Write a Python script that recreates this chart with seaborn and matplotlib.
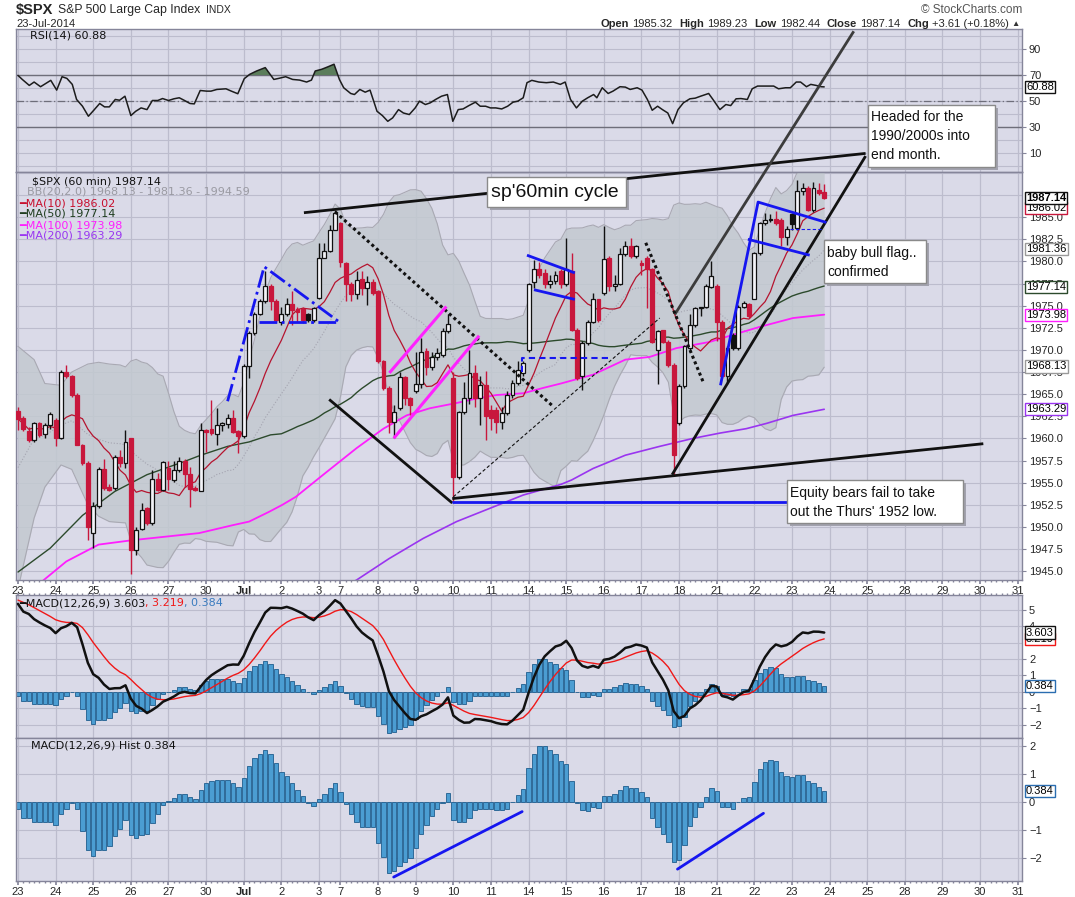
import matplotlib
matplotlib.use("Agg")
import numpy as np
import pandas as pd
import matplotlib.pyplot as plt
import matplotlib.patches as mpatches
from matplotlib.ticker import MultipleLocator
import seaborn as sns

# ------------------------------------------------------------------ data
day_labels = ["23", "24", "25", "26", "27", "30", "Jul", "2", "3", "7", "8", "9", "10", "11",
              "14", "15", "16", "17", "18", "21", "22", "23", "24", "25", "28", "29", "30", "31"]
bars_per_day = [7, 7, 7, 7, 7, 7, 7, 7, 4] + [7] * 19

opens = [1963.1, 1962.3, 1960.8, 1959.8, 1961.7, 1960.5, 1961.5,
         1962.1, 1960.0, 1967.5, 1967.0, 1964.9, 1959.3, 1957.2,
         1949.3, 1952.4, 1956.5, 1954.5, 1954.4, 1957.9, 1957.2,
         1960.0, 1947.4, 1949.8, 1952.1, 1950.4, 1955.4, 1954.2,
         1956.6, 1955.3, 1956.4, 1957.4, 1956.0, 1954.4, 1954.1,
         1961.0, 1961.1, 1960.5, 1961.5, 1961.6, 1962.3, 1960.8,
         1960.3, 1968.2, 1971.9, 1974.1, 1975.5, 1977.2, 1975.5,
         1973.2, 1974.0, 1975.2, 1974.6, 1974.6, 1974.0, 1973.4,
         1975.9, 1980.4, 1981.2, 1983.6,
         1984.3, 1979.8, 1977.5, 1976.3, 1978.0, 1977.0, 1977.7,
         1976.6, 1968.7, 1965.7, 1961.9, 1963.4, 1966.9, 1964.6,
         1965.3, 1966.1, 1969.9, 1968.1, 1969.2, 1969.4, 1972.1,
         1966.8, 1955.6, 1963.0, 1964.6, 1967.4, 1964.6, 1966.0,
         1963.2, 1963.2, 1961.9, 1962.9, 1964.9, 1966.3, 1967.4,
         1970.0, 1977.7, 1979.1, 1978.7, 1977.4, 1977.8, 1978.9,
         1977.4, 1978.9, 1972.3, 1967.0, 1970.8, 1973.2, 1975.7,
         1976.4, 1980.4, 1977.2, 1977.5, 1980.8, 1981.7, 1980.6,
         1979.8, 1980.4, 1979.1, 1970.0, 1972.2, 1970.9, 1968.3,
         1961.7, 1965.9, 1970.2, 1972.8, 1974.8, 1974.8, 1977.1,
         1977.2, 1973.2, 1967.0, 1971.7, 1970.2, 1974.9, 1975.2,
         1975.8, 1980.9, 1984.3, 1984.8, 1984.8, 1984.7, 1982.7,
         1985.3, 1983.8, 1988.0, 1988.3, 1985.8, 1988.1, 1987.8]
highs = [1963.6, 1962.5, 1961.3, 1961.8, 1961.9, 1961.7, 1963.0,
         1962.3, 1967.7, 1968.3, 1967.2, 1965.1, 1959.4, 1957.4,
         1952.8, 1956.8, 1957.7, 1954.9, 1958.1, 1958.7, 1961.0,
         1960.1, 1950.0, 1952.7, 1952.3, 1956.4, 1956.1, 1957.5,
         1957.4, 1957.4, 1957.9, 1957.7, 1956.8, 1954.6, 1961.7,
         1961.1, 1964.3, 1963.4, 1961.9, 1962.8, 1963.2, 1961.0,
         1968.4, 1972.1, 1974.3, 1975.7, 1978.9, 1977.4, 1975.7,
         1974.9, 1975.9, 1976.7, 1974.9, 1974.8, 1974.2, 1974.9,
         1982.1, 1982.1, 1984.1, 1985.8,
         1984.5, 1979.9, 1977.7, 1978.9, 1978.9, 1978.4, 1978.0,
         1976.8, 1968.9, 1965.9, 1963.8, 1967.5, 1967.0, 1964.7,
         1969.8, 1971.3, 1970.2, 1969.8, 1970.2, 1972.5, 1974.1,
         1967.5, 1963.1, 1966.4, 1970.0, 1968.3, 1967.0, 1967.6,
         1963.8, 1963.6, 1963.5, 1965.3, 1966.6, 1968.7, 1968.8,
         1977.6, 1980.2, 1979.9, 1979.1, 1978.5, 1978.9, 1979.1,
         1982.6, 1980.9, 1972.5, 1971.0, 1973.4, 1976.4, 1975.8,
         1984.0, 1980.6, 1978.5, 1981.5, 1982.3, 1982.6, 1981.8,
         1980.2, 1980.6, 1979.2, 1972.3, 1972.3, 1971.1, 1968.5,
         1966.1, 1970.6, 1974.0, 1974.9, 1974.9, 1977.4, 1980.0,
         1977.4, 1973.4, 1970.4, 1971.9, 1975.1, 1975.5, 1975.3,
         1981.1, 1984.5, 1985.5, 1985.3, 1985.7, 1984.9, 1984.0,
         1985.5, 1989.2, 1988.9, 1988.5, 1989.0, 1988.9, 1988.7]
lows = [1961.0, 1960.8, 1959.6, 1959.6, 1960.2, 1960.0, 1961.1,
        1959.1, 1959.9, 1966.8, 1964.7, 1959.2, 1957.0, 1948.5,
        1947.6, 1952.1, 1954.2, 1954.0, 1954.2, 1956.8, 1956.6,
        1944.7, 1946.8, 1949.6, 1950.2, 1950.2, 1954.0, 1954.0,
        1954.2, 1955.1, 1956.2, 1954.5, 1952.3, 1954.0, 1954.0,
        1958.5, 1960.4, 1959.3, 1960.8, 1961.2, 1960.6, 1958.3,
        1960.0, 1966.8, 1971.7, 1973.9, 1975.3, 1974.5, 1973.2,
        1972.8, 1973.8, 1972.8, 1973.2, 1973.0, 1973.2, 1973.2,
        1975.8, 1980.4, 1981.1, 1983.5,
        1979.4, 1975.5, 1975.5, 1975.7, 1976.2, 1975.1, 1976.2,
        1968.5, 1965.5, 1960.6, 1960.0, 1963.2, 1963.8, 1962.6,
        1965.1, 1965.7, 1967.2, 1967.7, 1968.9, 1969.2, 1971.9,
        1952.8, 1955.4, 1962.8, 1963.9, 1963.5, 1961.5, 1959.8,
        1961.0, 1960.6, 1961.1, 1962.6, 1964.6, 1966.0, 1967.0,
        1969.8, 1977.0, 1978.1, 1977.0, 1977.0, 1977.5, 1977.0,
        1977.2, 1972.1, 1966.6, 1965.5, 1970.6, 1973.0, 1973.2,
        1976.2, 1976.6, 1976.6, 1977.3, 1980.6, 1980.4, 1980.4,
        1978.5, 1974.7, 1970.8, 1966.2, 1970.8, 1968.1, 1955.9,
        1961.5, 1965.7, 1969.8, 1972.6, 1973.8, 1974.7, 1977.0,
        1971.0, 1966.8, 1966.2, 1970.0, 1970.0, 1974.7, 1973.6,
        1975.7, 1980.7, 1984.1, 1984.5, 1984.1, 1981.7, 1981.9,
        1983.6, 1983.6, 1987.5, 1985.7, 1985.6, 1987.5, 1987.1]
closes = [1962.2, 1961.1, 1959.8, 1961.7, 1960.4, 1961.5, 1962.7,
          1960.0, 1967.5, 1967.0, 1964.9, 1959.3, 1957.2, 1950.0,
          1952.4, 1956.5, 1954.4, 1954.2, 1957.9, 1957.2, 1959.6,
          1947.4, 1949.6, 1951.9, 1950.4, 1955.4, 1954.2, 1957.3,
          1955.4, 1956.4, 1957.4, 1956.0, 1954.3, 1954.2, 1961.0,
          1960.7, 1960.6, 1961.5, 1961.7, 1962.3, 1960.7, 1960.3,
          1968.2, 1971.9, 1974.1, 1975.5, 1977.2, 1975.5, 1973.4,
          1974.0, 1975.2, 1974.5, 1974.3, 1973.4, 1973.4, 1974.7,
          1980.4, 1981.2, 1983.6, 1985.5,
          1979.9, 1977.4, 1976.3, 1977.9, 1977.0, 1977.7, 1976.4,
          1968.7, 1965.7, 1961.9, 1963.0, 1966.9, 1964.6, 1963.8,
          1966.1, 1969.8, 1968.1, 1969.2, 1969.6, 1972.1, 1972.9,
          1955.6, 1963.0, 1964.6, 1967.4, 1964.6, 1966.0, 1962.5,
          1962.3, 1961.9, 1962.9, 1964.9, 1966.3, 1967.7, 1968.5,
          1977.4, 1979.1, 1978.5, 1977.4, 1977.8, 1978.5, 1977.4,
          1979.1, 1972.3, 1966.8, 1970.8, 1973.2, 1975.7, 1973.4,
          1980.3, 1977.2, 1977.4, 1980.8, 1981.7, 1980.6, 1981.7,
          1979.6, 1979.1, 1970.9, 1972.1, 1970.9, 1968.3, 1958.1,
          1965.9, 1970.4, 1972.8, 1974.7, 1974.7, 1977.2, 1978.3,
          1973.2, 1967.0, 1970.2, 1970.2, 1974.9, 1975.3, 1973.8,
          1980.9, 1984.3, 1984.7, 1984.7, 1984.3, 1982.7, 1983.7,
          1984.2, 1988.0, 1988.3, 1985.8, 1988.3, 1987.7, 1987.14]

ma50_early_bar = [0, 6, 12, 18, 24, 31, 34, 39, 43, 47]
ma50_early_val = [1944.9, 1947.6, 1951.3, 1954.0, 1955.9, 1957.4, 1958.1, 1959.1, 1959.6, 1960.4]
bb_early_bar = [0, 3, 5, 8, 10, 13, 15, 17]
bb_early_up = [1970.4, 1968.9, 1966.2, 1966.0, 1967.5, 1968.4, 1968.6, 1968.4]
bb_early_lo = [1943.0, 1951.0, 1954.5, 1957.0, 1956.5, 1952.5, 1951.2, 1950.6]
ma100_bar = [4, 9, 15, 21.3, 27.5, 33.7, 40, 43, 46.7, 49.2, 51.7, 56.8, 63, 68, 72.3, 76.6,
             81.6, 85.3, 89, 94, 97.7, 101, 107, 113, 117.5, 122.5, 128.7, 133, 138, 144.2, 150]
ma100_val = [1943.6, 1946.1, 1948.0, 1948.5, 1948.9, 1949.3, 1950.2, 1950.6, 1951.7, 1952.5, 1953.4,
             1955.9, 1958.9, 1961.1, 1962.6, 1963.4, 1964.0, 1964.5, 1964.9, 1965.1, 1965.7, 1966.2,
             1967.2, 1968.9, 1969.2, 1970.2, 1970.9, 1971.7, 1972.6, 1973.6, 1973.98]
ma200_bar = [60, 63, 69, 75.4, 81.6, 87.8, 94, 101, 103, 107, 113, 119.4, 125.6, 130.6, 135.5,
             139.3, 144.2, 150]
ma200_val = [1943.0, 1944.0, 1946.4, 1948.7, 1950.6, 1952.1, 1953.6, 1954.8, 1955.3, 1956.6,
             1958.1, 1959.1, 1960.0, 1960.6, 1961.1, 1961.7, 1962.6, 1963.29]

rsi_bar = [0, 0.8, 2.1, 3, 4.2, 6.1, 7.2, 8.2, 9.1, 10.1, 10.9, 12, 13.1, 14.1, 15.2, 16.1, 17,
           18.1, 18.9, 19.9, 21, 21.9, 22.9, 24, 25, 26, 26.9, 28, 29, 30, 30.9, 32, 32.8, 33.9,
           35.1, 35.9, 37, 38.7, 39.7, 40.9, 42.1, 43.1, 44.4, 46, 47.6, 48.5, 49.8, 51.1, 52.4,
           53.7, 54.6, 55.3, 56.5, 57.6, 58.8, 59.8, 60.6, 61.9, 62.6, 63.6, 64.6, 65.5, 66.8,
           67.8, 68.8, 69.7, 70.8, 71.7, 72.8, 73.9, 74.7, 75.8, 76.7, 77.7, 78.8, 79.9, 80.9,
           81.9, 82.8, 83.9, 85.1, 86, 87, 87.9, 88.9, 90, 91.1, 92.1, 93, 94, 94.7, 95.6, 96.9,
           98.3, 99.6, 100.9, 101.8, 102.8, 103.9, 105, 106, 107.1, 107.7, 108.7, 109.8, 110.7,
           112, 113, 113.9, 115.2, 116.1, 117.1, 118, 119, 119.9, 120.9, 121.8, 122.8, 123.8,
           125, 126, 127, 128.5, 129.3, 130.6, 131.7, 132.6, 133.6, 134.5, 135.7, 136.6, 137.6,
           139, 140.6, 141.5, 142.8, 143.7, 144.8, 145.6, 146.7, 147.5, 148.5, 149.4, 150]
rsi_val = [69.7, 66.6, 62.0, 64.6, 61.0, 65.9, 58.4, 68.7, 67.4, 62.8, 51.2, 46.0, 38.3, 42.9,
           48.1, 45.5, 45.5, 51.2, 50.6, 53.7, 38.8, 42.1, 44.7, 43.4, 50.4, 50.4, 51.9, 50.4,
           51.7, 52.5, 50.6, 48.1, 47.8, 58.1, 57.6, 57.6, 58.9, 59.4, 57.6, 55.6, 67.2, 70.5,
           73.1, 75.7, 66.6, 67.4, 68.7, 66.6, 66.1, 64.6, 66.1, 73.1, 74.4, 76.2, 78.3, 66.6,
           60.2, 55.8, 55.0, 58.9, 56.8, 58.4, 42.1, 38.8, 34.4, 37.0, 43.4, 40.8, 39.6, 44.7,
           49.9, 47.3, 48.6, 51.2, 53.7, 55.0, 34.4, 43.4, 43.9, 46.5, 49.1, 46.0, 46.0, 44.7,
           44.7, 43.9, 46.0, 49.1, 49.9, 52.5, 64.1, 65.9, 64.6, 64.1, 64.6, 62.8, 64.6, 51.2,
           44.7, 49.9, 52.5, 55.0, 52.5, 60.2, 55.8, 57.6, 61.0, 60.7, 58.9, 60.2, 58.4, 51.2,
           42.9, 46.0, 43.4, 40.8, 32.6, 43.4, 48.6, 51.7, 52.2, 53.7, 55.8, 51.2, 43.4, 47.3,
           46.5, 51.7, 51.9, 51.2, 59.4, 61.5, 61.5, 61.5, 59.4, 60.2, 60.2, 64.6, 64.6, 61.0,
           62.8, 62.0, 61.0, 60.88]

macd_hist = [-0.23, -0.56, -0.56, -0.70, -0.72, -0.72, -0.70,
             -0.81, -0.41, -0.23, -0.02, -0.23, -1.01, -1.71,
             -1.92, -1.71, -1.69, -1.57, -1.22, -0.97, -0.64,
             -1.16, -1.28, -1.16, -1.14, -0.76, -0.43, -0.12,
             0.02, 0.15, 0.29, 0.29, 0.17, 0.12, 0.43,
             0.66, 0.76, 0.78, 0.78, 0.78, 0.66, 0.52,
             0.85, 1.28, 1.57, 1.72, 1.86, 1.72, 1.37,
             1.08, 0.93, 0.66, 0.41, 0.20, -0.02, -0.15,
             0.12, 0.29, 0.49, 0.67,
             0.37, -0.06, -0.41, -0.72, -0.87, -0.90, -0.90,
             -1.45, -1.94, -2.50, -2.44, -2.27, -2.13, -1.98,
             -1.63, -1.13, -0.81, -0.50, -0.26, -0.02, 0.33,
             -0.62, -0.70, -0.70, -0.55, -0.27, -0.23, -0.23,
             -0.23, -0.27, -0.27, -0.23, 0.00, 0.26, 0.47,
             1.20, 1.72, 1.98, 1.99, 1.84, 1.70, 1.44,
             1.35, 0.73, -0.02, -0.28, -0.31, -0.16, -0.22,
             0.21, 0.21, 0.28, 0.42, 0.56, 0.51, 0.51,
             0.36, 0.19, -0.57, -0.88, -1.12, -1.41, -2.14,
             -2.05, -1.53, -0.86, -0.53, -0.19, 0.19, 0.51,
             0.38, -0.16, -0.19, -0.26, -0.01, 0.16, 0.19,
             0.71, 1.17, 1.41, 1.49, 1.44, 1.06, 0.91,
             0.88, 0.97, 0.97, 0.74, 0.67, 0.53, 0.384]
macd_signal_last = 3.219
signal_span = 9

# ------------------------------------------------------------------ derived series
o = np.array(opens); h = np.array(highs); l = np.array(lows); c = np.array(closes)
n = len(c)
idx = np.arange(n)
day_starts = np.concatenate([[0], np.cumsum(bars_per_day)[:-1]])
cs = pd.Series(c)
ma10 = cs.rolling(10, min_periods=1).mean().values
ma50 = cs.rolling(50).mean().values
bb_mid = cs.rolling(20).mean().values
bb_sd = cs.rolling(20).std(ddof=0).values
bb_x = np.concatenate([bb_early_bar, idx[19:]])
bb_u = np.concatenate([bb_early_up, (bb_mid + 2 * bb_sd)[19:]])
bb_l = np.concatenate([bb_early_lo, (bb_mid - 2 * bb_sd)[19:]])
ma50_x = np.concatenate([ma50_early_bar, idx[49:]])
ma50_y = np.concatenate([ma50_early_val, ma50[49:]])

hist = np.array(macd_hist)
alpha = 2.0 / (signal_span + 1)
after = np.cumsum(hist[::-1])[::-1] - hist
signal = macd_signal_last - alpha / (1 - alpha) * after
macd = signal + hist

# ------------------------------------------------------------------ style
sns.set_theme(style="white")
plt.rcParams['font.family'] = ['Liberation Sans', 'DejaVu Sans']
W, H = 1075, 897
BG = '#dadae8'
GRID = '#bcbccd'
SPINE = '#85859a'
RED = '#c8173c'
BLUE = '#1616f0'
LEG = ['DejaVu Sans']

fig = plt.figure(figsize=(W / 100, H / 100), dpi=100, facecolor='white')
L_PX, R_PX = 16, 1022


def panel(top, bottom):
    return fig.add_axes([L_PX / W, 1 - bottom / H, (R_PX - L_PX) / W, (bottom - top) / H])


ax_rsi = panel(29, 172)
ax_p = panel(172, 580)
ax_m = panel(595, 738)
ax_h = panel(738, 881)
XMIN, XMAX = -0.37, 186.8

for ax in (ax_rsi, ax_p, ax_m, ax_h):
    ax.set_facecolor(BG)
    ax.set_xlim(XMIN, XMAX)
    for s in ax.spines.values():
        s.set_color(SPINE)
        s.set_linewidth(1.0)
    ax.yaxis.tick_right()
    ax.tick_params(axis='y', which='both', direction='out', length=3, width=0.8, color=SPINE,
                   labelsize=8, pad=2, left=False, right=True, labelleft=False, labelright=True)
    ax.tick_params(axis='x', which='both', bottom=False, top=False, labelbottom=False)
    for d in day_starts:
        ax.axvline(d, color=GRID, lw=0.9, zorder=0.4)


def sline(ax, x, y, **kw):
    sns.lineplot(x=np.asarray(x, float), y=np.asarray(y, float), ax=ax, estimator=None,
                 sort=False, legend=False, **kw)


# ------------------------------------------------------------------ RSI panel
for lv in range(0, 101, 10):
    ax_rsi.axhline(lv, color=GRID, lw=0.8, zorder=0.4)
ax_rsi.axhline(70, color='#6e6e7a', lw=1.0, zorder=1)
ax_rsi.axhline(30, color='#6e6e7a', lw=1.0, zorder=1)
ax_rsi.axhline(50, color='#6e6e7a', lw=0.9, ls=(0, (6, 2, 1, 2)), zorder=1)
rx = np.array(rsi_bar, float); ry = np.array(rsi_val, float)
ax_rsi.fill_between(rx, ry, 70, where=ry > 70, interpolate=True, color='#5b7d5b', zorder=2, lw=0)
sline(ax_rsi, rx, ry, color='#1c1c1c', linewidth=1.1, zorder=3)
ax_rsi.set_ylim(-4.6, 105.4)
ax_rsi.set_yticks([10, 30, 50, 70, 90])

# ------------------------------------------------------------------ price panel
for lv in np.arange(1945, 1990.1, 2.5):
    ax_p.axhline(lv, color=GRID, lw=0.8, zorder=0.4)
ax_p.fill_between(bb_x, bb_l, bb_u, color='#c3c9d0', alpha=0.85, lw=0, zorder=1)
sline(ax_p, bb_x, bb_u, color='#a9a9b3', linewidth=0.8, zorder=1.1)
sline(ax_p, bb_x, bb_l, color='#a9a9b3', linewidth=0.8, zorder=1.1)
sline(ax_p, bb_x, (bb_u + bb_l) / 2, color='#a4a4b0', linewidth=0.8, linestyle=':', zorder=1.1)
sline(ax_p, ma200_bar, ma200_val, color='#9a35f0', linewidth=1.2, zorder=2)
sline(ax_p, ma100_bar, ma100_val, color='#ff1eff', linewidth=1.3, zorder=2)
sline(ax_p, ma50_x, ma50_y, color='#2c4a2c', linewidth=1.0, zorder=2)
sline(ax_p, idx, ma10, color='#b5142f', linewidth=0.9, zorder=2)

prev = np.r_[o[0], c[:-1]]
col = np.where(c < prev, RED, '#111111')
filled = c < o
blo = np.minimum(o, c); bhi = np.maximum(o, c)
ax_p.vlines(idx, l, blo, colors=col, lw=1.0, zorder=3)
ax_p.vlines(idx, bhi, h, colors=col, lw=1.0, zorder=3)
face = [cc if f else '#f3f3f7' for cc, f in zip(col, filled)]
ax_p.bar(idx, np.maximum(bhi - blo, 0.12), bottom=blo, width=0.72, color=face, edgecolor=col,
         linewidth=0.9, zorder=4)
ax_p.set_ylim(1944.0, 1990.1)
ax_p.set_yticks(np.arange(1945, 1986, 2.5))
ax_p.yaxis.set_major_formatter(matplotlib.ticker.FormatStrFormatter('%.1f'))

# trend-line annotations (bar index, price)
segs = [
    ([53.2, 157.7], [1985.5, 1992.2], dict(color='#111111', lw=2.0)),
    ([57.9, 80.8], [1964.4, 1952.7], dict(color='#111111', lw=2.0)),
    ([80.8, 179.6], [1953.2, 1959.4], dict(color='#111111', lw=2.0)),
    ([121.7, 157.7], [1955.9, 1991.9], dict(color='#111111', lw=2.0)),
    ([122.2, 155.5], [1974.0, 2006.0], dict(color='#3c3c3c', lw=2.0)),
    ([80.8, 143.0], [1952.8, 1952.8], dict(color=BLUE, lw=2.0)),
    ([59.0, 99.6], [1985.6, 1963.6], dict(color='#111111', lw=2.2, ls=(0, (1, 1)))),
    ([116.8, 127.6], [1982.1, 1966.2], dict(color='#111111', lw=2.2, ls=(0, (1, 1)))),
    ([81.0, 119.4], [1953.4, 1973.6], dict(color='#111111', lw=0.8, ls=(0, (3, 2)))),
    ([39.0, 45.8, 59.9], [1964.2, 1979.4, 1973.1], dict(color=BLUE, lw=2.0, ls='-.')),
    ([44.9, 59.9], [1973.1, 1973.1], dict(color=BLUE, lw=2.0, ls='-.')),
    ([94.7, 103.6], [1980.7, 1978.7], dict(color=BLUE, lw=2.0)),
    ([96.0, 103.6], [1976.8, 1975.7], dict(color=BLUE, lw=2.0)),
    ([93.8, 93.8, 109.8], [1967.5, 1969.1, 1969.1], dict(color=BLUE, lw=1.5, ls=(0, (3, 2)))),
    ([130.7, 137.7, 150.4], [1966.0, 1986.7, 1984.4], dict(color=BLUE, lw=2.0)),
    ([135.8, 147.3], [1982.5, 1980.7], dict(color=BLUE, lw=2.0)),
    ([143.6, 149.7], [1983.7, 1983.7], dict(color=BLUE, lw=0.8, ls=(0, (3, 2)))),
    ([69.1, 79.7], [1967.4, 1974.9], dict(color='#ff22ff', lw=2.2)),
    ([69.9, 85.8], [1960.0, 1971.6], dict(color='#ff22ff', lw=2.2)),
]
for xs, ys, kw in segs:
    ax_p.plot(xs, ys, clip_on=False, zorder=6, solid_capstyle='butt', **kw)

# ------------------------------------------------------------------ MACD panel
for lv in range(-2, 6):
    ax_m.axhline(lv, color=GRID, lw=0.8, zorder=0.4)
ax_m.bar(idx, hist, width=0.82, color='#4b9dd2', edgecolor='#1f5d8e', linewidth=0.6, zorder=2)
sline(ax_m, idx, signal, color='#f01818', linewidth=1.0, zorder=3)
sline(ax_m, idx, macd, color='#111111', linewidth=1.8, zorder=4)
ax_m.set_ylim(-2.79, 5.88)
ax_m.set_yticks([-2, -1, 0, 1, 2, 4, 5])

# ------------------------------------------------------------------ histogram panel
for lv in range(-2, 3):
    ax_h.axhline(lv, color=GRID, lw=0.8, zorder=0.4)
ax_h.bar(idx, hist, width=0.82, color='#4b9dd2', edgecolor='#1f5d8e', linewidth=0.6, zorder=2)
ax_h.plot([69.9, 93.8], [-2.66, -0.34], color=BLUE, lw=2.0, zorder=5)
ax_h.plot([122.7, 138.7], [-2.38, -0.40], color=BLUE, lw=2.0, zorder=5)
ax_h.set_ylim(-2.80, 2.27)
ax_h.set_yticks(range(-2, 3))

# ------------------------------------------------------------------ x axes
for ax in (ax_p, ax_h):
    ax.set_xticks(day_starts)
    ax.set_xticklabels(day_labels)
    ax.xaxis.set_minor_locator(MultipleLocator(1))
    ax.tick_params(axis='x', which='major', bottom=True, length=3, color=SPINE, labelbottom=True,
                   labelsize=8, pad=1)
    ax.tick_params(axis='x', which='minor', bottom=True, length=1.5, color=SPINE)
    for t in ax.get_xticklabels():
        if t.get_text() == 'Jul':
            t.set_fontweight('bold')
ax_m.xaxis.set_minor_locator(MultipleLocator(1))
ax_m.set_xticks(day_starts)
ax_m.tick_params(axis='x', which='both', top=True, bottom=False, labeltop=False, length=1.5,
                 color=SPINE)
for ax in (ax_rsi, ax_p, ax_m, ax_h):
    ax.set_xlabel('')
    ax.set_ylabel('')
    ax.set_xlim(XMIN, XMAX)


# ------------------------------------------------------------------ value tags on the right
def tag(ax, y, txt, ec, bold=False):
    ax.text(1.004, y, txt, transform=ax.get_yaxis_transform(), ha='left', va='center',
            fontsize=8, fontweight='bold' if bold else 'normal', color='black',
            bbox=dict(boxstyle='square,pad=0.1', fc='white', ec=ec, lw=1.0), clip_on=False,
            zorder=20)


tag(ax_rsi, 60.88, '60.88', '#111111')
tag(ax_p, 1968.13, '1968.13', '#9a9a9a')
tag(ax_p, 1963.29, '1963.29', '#9a35f0')
tag(ax_p, 1973.98, '1973.98', '#ff1eff')
tag(ax_p, 1977.14, '1977.14', '#2c4a2c')
tag(ax_p, 1981.36, '1981.36', '#9a9a9a')
tag(ax_p, 1986.02, '1986.02', RED)
tag(ax_p, 1987.14, '1987.14', '#111111', bold=True)
tag(ax_m, 0.384, '0.384', '#2a6db0')
tag(ax_m, 3.219, '3.219', '#f01818')
tag(ax_m, 3.603, '3.603', '#111111')
tag(ax_h, 0.384, '0.384', '#2a6db0')

# ------------------------------------------------------------------ texts
rend = fig.canvas.get_renderer()


def chain(pieces, x, y, align='left'):
    arts, widths = [], []
    for s, kw, gap in pieces:
        t = fig.text(0, 1 - y / H, s, va='center', ha='left', zorder=30, **kw)
        arts.append(t)
        widths.append(t.get_window_extent(rend).width + gap)
    cx = x - sum(widths) if align == 'right' else x
    for t, w in zip(arts, widths):
        t.set_x(cx / W)
        cx += w


B8 = dict(fontsize=8, fontweight='bold')
N8 = dict(fontsize=8)
chain([("$SPX", dict(fontsize=10.5, fontweight='bold'), 5),
       ("S&P 500 Large Cap Index", dict(fontsize=8.8), 5),
       ("INDX", dict(fontsize=7.5), 0)], 16, 10)
fig.text(16 / W, 1 - 24 / H, "23-Jul-2014", fontsize=8, va='center')
fig.text(1022 / W, 1 - 10 / H, "© StockCharts.com", fontsize=8.5, color='#555555', ha='right',
         va='center')
chain([("Open", B8, 3), ("1985.32", N8, 7), ("High", B8, 3), ("1989.23", N8, 7),
       ("Low", B8, 3), ("1982.44", N8, 7), ("Close", B8, 3), ("1987.14", N8, 7),
       ("Chg", B8, 3), ("+3.61 (+0.18%)", N8, 3), ("▲", dict(fontsize=6, color='#333333'), 0)],
      1020, 24, align='right')

LF = dict(fontsize=8, family=LEG)
fig.text(30 / W, 1 - 36 / H, "RSI(14) 60.88", va='center', zorder=30, color='#111111', **LF)
leg = [("$SPX (60 min) 1987.14", '#111111', 32, 181),
       ("BB(20,2.0) 1968.13 - 1981.36 - 1994.59", '#9a9aa2', 27, 192),
       ("━MA(10) 1986.02", '#c8102e', 19, 203),
       ("━MA(50) 1977.14", '#1f3d1f', 19, 214),
       ("━MA(100) 1973.98", '#ff1eff', 19, 225),
       ("━MA(200) 1963.29", '#9a35f0', 19, 236)]
for s, cl, x, y in leg:
    fig.text(x / W, 1 - y / H, s, va='center', color=cl, zorder=30, **LF)
chain([("━MACD(12,26,9) 3.603", dict(color='#111111', **LF), 0),
       (", 3.219", dict(color='#f01818', **LF), 0),
       (", 0.384", dict(color='#3a7bbf', **LF), 0)], 19, 603)
fig.text(31 / W, 1 - 745 / H, "MACD(12,26,9) Hist 0.384", va='center', color='#111111',
         zorder=30, **LF)


# ------------------------------------------------------------------ note boxes
def note(x0, y0, x1, y1, lines, fs, tx, ys):
    fig.add_artist(mpatches.Rectangle(((x0 + 3) / W, 1 - (y1 + 3) / H), (x1 - x0) / W,
                                      (y1 - y0) / H, transform=fig.transFigure,
                                      facecolor='#a2a2ae', edgecolor='none', zorder=40))
    fig.add_artist(mpatches.Rectangle((x0 / W, 1 - y1 / H), (x1 - x0) / W, (y1 - y0) / H,
                                      transform=fig.transFigure, facecolor='white',
                                      edgecolor='#8a8a8a', lw=1.0, zorder=41))
    for s, y in zip(lines, ys):
        fig.text(tx / W, 1 - y / H, s, fontsize=fs, va='center', ha='left', color='#111111',
                 zorder=42)


note(487, 177, 626, 207, ["sp'60min cycle"], 14, 491, [192.5])
note(868, 105, 995, 167, ["Headed for the", "1990/2000s into", "end month."], 10, 871,
     [117, 136, 155])
note(824, 240, 926, 283, ["baby bull flag..", "confirmed"], 10, 827, [253, 272])
note(787, 480, 963, 523, ["Equity bears fail to take", "out the Thurs' 1952 low."], 10, 790,
     [493, 512])

fig.savefig("out.png", dpi=100, facecolor='white')
